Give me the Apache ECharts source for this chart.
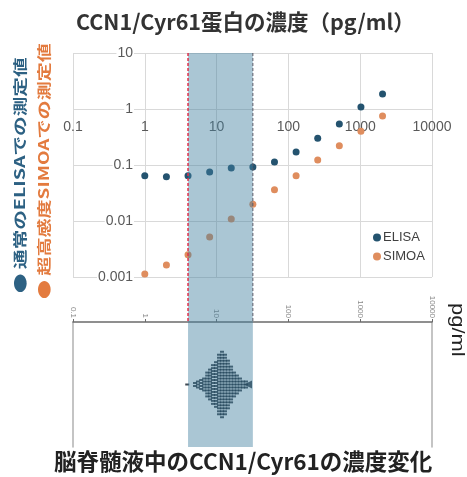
<!DOCTYPE html>
<html>
<head>
<meta charset="utf-8">
<script src="https://cdn.jsdelivr.net/npm/echarts@6/dist/echarts.min.js"></script>
<style>html,body{margin:0;padding:0;background:#fff}#c{width:467px;height:477px}</style>
</head>
<body>
<div id="c"></div>
<script>
// ---- data ----
const mainTitle = 'CCN1/Cyr61蛋白の濃度（pg/ml）';
const bottomTitle = '脳脊髄液中のCCN1/Cyr61の濃度変化';
const elisaLabel = '● 通常のELISAでの測定値';
const simoaLabel = '● 超高感度SIMOAでの測定値';
const unitLabel = 'pg/ml';
const seriesNames = ['ELISA', 'SIMOA'];
const xValues = [1, 2, 4, 8, 16, 32, 64, 128, 256, 512, 1024, 2048];
const elisaValues = [0.064, 0.062, 0.064, 0.075, 0.088, 0.092, 0.113, 0.17, 0.30, 0.54, 1.09, 1.85];
const simoaValues = [0.00113, 0.00164, 0.0025, 0.0052, 0.0109, 0.020, 0.036, 0.064, 0.123, 0.22, 0.40, 0.75];
const xTickLabels = ['0.1', '1', '10', '100', '1000', '10000'];
const yTickLabels = ['0.001', '0.01', '0.1', '1', '10'];
const bandRange = [4, 32];
const swarmBins = [3.9, 5.0, 5.5, 6.1, 6.7, 7.4, 8.1, 8.9, 9.8, 10.8, 11.9, 13.1, 14.4, 15.9, 17.5, 19.2, 21.2, 23.3, 25.7];
const swarmCounts = [1, 2, 3, 4, 5, 9, 11, 14, 16, 21, 23, 21, 17, 13, 9, 7, 5, 3, 3];
const swarmMarker = 27.4;

// ---- build ----
const elisaData = xValues.map((x, i) => [x, elisaValues[i]]);
const simoaData = xValues.map((x, i) => [x, simoaValues[i]]);
const swarmData = [];
swarmBins.forEach((b, i) => {
  const n = swarmCounts[i];
  for (let k = 0; k < n; k++) swarmData.push([b, k - (n - 1) / 2]);
});
const labelFor = (list) => (v) => list.find(l => Math.abs(Math.log10(+l) - Math.log10(v)) < 1e-6) || '';

const tickFont = 'Liberation Sans';
const jpFont = 'Noto Sans CJK JP';
const bandColor = 'rgba(67,129,160,0.45)';

const chart = echarts.init(document.getElementById('c'), null, {renderer: 'canvas'});
chart.setOption({
  animation: false,
  backgroundColor: '#fff',
  title: [
    {text: mainTitle, left: 76, top: 11, padding: 0,
     textStyle: {fontSize: 21.5, fontWeight: 'bold', color: '#333', fontFamily: jpFont}},
    {text: bottomTitle, left: 54, top: 450, padding: 0,
     textStyle: {fontSize: 22.5, fontWeight: 'bold', color: '#222', fontFamily: jpFont}}
  ],
  legend: {
    data: seriesNames, orient: 'vertical', left: 368, top: 226, itemGap: 6,
    itemWidth: 8, itemHeight: 8, icon: 'circle',
    textStyle: {fontSize: 13, color: '#404040', fontFamily: tickFont, padding: [0, 0, 0, -3]}
  },
  graphic: [
    {type: 'text', x: 20, y: 293, rotation: Math.PI / 2, scaleX: 1.4, scaleY: 1,
     style: {text: elisaLabel, fill: '#2d6183', font: 'bold 14px "Noto Sans CJK JP"', textAlign: 'left', textVerticalAlign: 'middle'}},
    {type: 'text', x: 44, y: 299, rotation: Math.PI / 2, scaleX: 1.36, scaleY: 1,
     style: {text: simoaLabel, fill: '#e37b3f', font: 'bold 14px "Noto Sans CJK JP"', textAlign: 'left', textVerticalAlign: 'middle'}},
    {type: 'text', x: 457, y: 303, rotation: -Math.PI / 2, scaleX: 1.22, scaleY: 1,
     style: {text: unitLabel, fill: '#222', font: '18px "Liberation Sans"', textAlign: 'left', textVerticalAlign: 'middle'}}
  ],
  grid: [
    {left: 73, top: 53, width: 359, height: 224},
    {left: 73, top: 322, width: 359, height: 125},
    {left: 73, top: 53, width: 359, height: 394},
    {left: 73, top: 53, width: 359, height: 269}
  ],
  xAxis: [
    {type: 'log', gridIndex: 0, min: 0.1, max: 10000, position: 'bottom', offset: -168,
     axisLine: {show: false}, axisTick: {show: false},
     axisLabel: {formatter: labelFor(xTickLabels), fontSize: 14, color: '#595959', fontFamily: tickFont, margin: 11},
     splitLine: {show: true, lineStyle: {color: '#d9d9d9', width: 1}}},
    {type: 'log', gridIndex: 1, min: 0.1, max: 10000, position: 'top',
     axisLine: {show: true, onZero: false, lineStyle: {color: '#6b6b6b', width: 1.5}},
     axisTick: {show: true, length: 3, lineStyle: {color: '#6b6b6b'}},
     axisLabel: {formatter: labelFor(xTickLabels), fontSize: 8, color: '#888', fontFamily: tickFont, rotate: 90, margin: 4},
     splitLine: {show: false}},
    {type: 'log', gridIndex: 2, min: 0.1, max: 10000, show: false},
    {type: 'log', gridIndex: 3, min: 0.1, max: 10000, show: false}
  ],
  yAxis: [
    {type: 'log', gridIndex: 0, min: 0.001, max: 10, position: 'left', offset: -73,
     axisLine: {show: false}, axisTick: {show: false},
     axisLabel: {formatter: labelFor(yTickLabels), fontSize: 14, color: '#595959', fontFamily: tickFont, margin: 12,
       backgroundColor: '#fff', padding: [0, 1]},
     splitLine: {show: true, lineStyle: {color: '#d9d9d9', width: 1}}},
    {type: 'value', gridIndex: 1, min: -21, max: 21, position: 'left',
     axisLine: {show: true, onZero: false, lineStyle: {color: '#b0b0b0', width: 1.5}},
     axisTick: {show: false}, axisLabel: {show: false}, splitLine: {show: false}},
    {type: 'value', gridIndex: 1, min: -21, max: 21, position: 'right',
     axisLine: {show: true, onZero: false, lineStyle: {color: '#b0b0b0', width: 1.5}},
     axisTick: {show: false}, axisLabel: {show: false}, splitLine: {show: false}},
    {type: 'value', gridIndex: 2, min: 0, max: 1, show: false},
    {type: 'value', gridIndex: 3, min: 0, max: 1, show: false}
  ],
  series: [
    {name: seriesNames[0], type: 'scatter', xAxisIndex: 0, yAxisIndex: 0, z: 3,
     symbolSize: 7, itemStyle: {color: '#24536f', opacity: 1}, data: elisaData},
    {name: seriesNames[1], type: 'scatter', xAxisIndex: 0, yAxisIndex: 0, z: 2,
     symbolSize: 7, itemStyle: {color: '#df8d5e', opacity: 1}, data: simoaData},
    {type: 'scatter', xAxisIndex: 1, yAxisIndex: 1, z: 2, symbol: 'rect', symbolSize: [4, 2],
     itemStyle: {color: '#101c28'}, data: swarmData, silent: true},
    {type: 'scatter', xAxisIndex: 1, yAxisIndex: 1, z: 2, symbol: 'triangle', symbolRotate: 90, symbolSize: 8,
     itemStyle: {color: '#101c28'}, data: [[swarmMarker, 0]], silent: true},
    {type: 'custom', xAxisIndex: 2, yAxisIndex: 3, z: 10, silent: true,
     data: [bandRange],
     renderItem: (params, api) => {
       const cs = params.coordSys;
       const x0 = api.coord([api.value(0), 0])[0];
       const x1 = api.coord([api.value(1), 0])[0];
       return {type: 'rect', shape: {x: x0, y: cs.y, width: x1 - x0, height: cs.height}, style: {fill: bandColor}};
     }},
    {type: 'custom', xAxisIndex: 3, yAxisIndex: 4, z: 11, silent: true,
     data: bandRange.map(v => [v, 0]),
     renderItem: (params, api) => {
       const cs = params.coordSys;
       const x = api.coord([api.value(0), 0])[0];
       const red = params.dataIndex === 0;
       return {type: 'line', shape: {x1: x, y1: cs.y, x2: x, y2: cs.y + cs.height},
         style: {stroke: red ? '#e0304a' : '#5a5a66', lineWidth: red ? 1.5 : 1, lineDash: [3, 2]}};
     }}
  ]
});
</script>
</body>
</html>
